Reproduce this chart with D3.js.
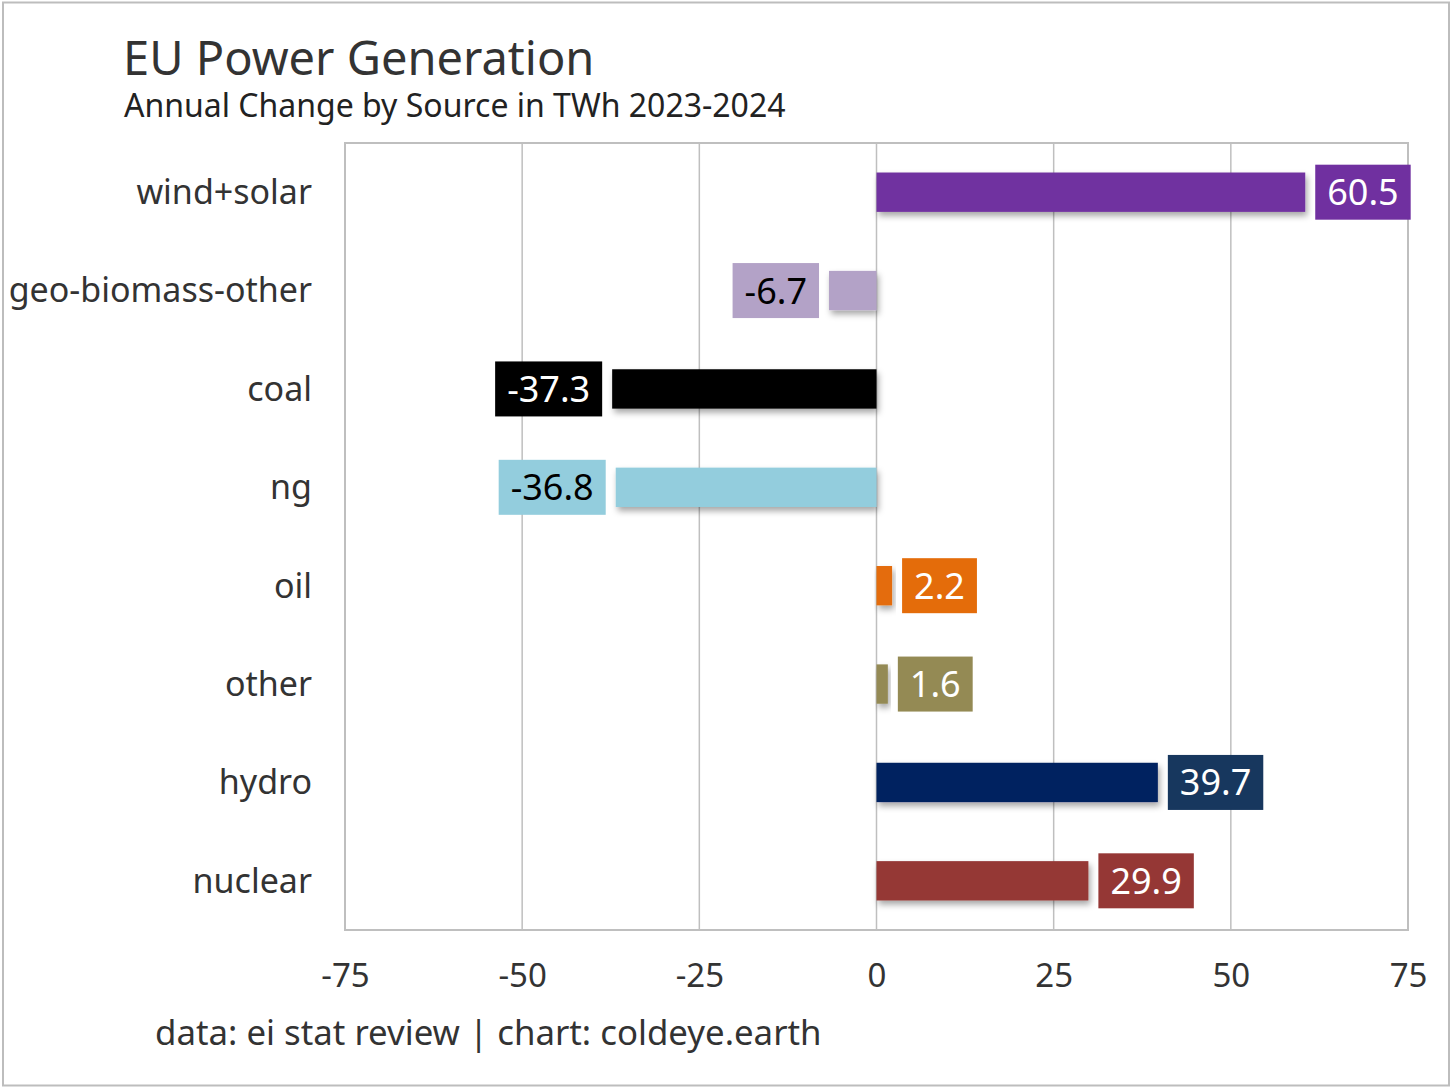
<!DOCTYPE html>
<html><head><meta charset="utf-8">
<script src="https://cdn.jsdelivr.net/npm/d3@7"></script>
<style>html,body{margin:0;padding:0;background:#fff;}svg{display:block;}</style>
</head><body>
<svg id="chart" width="1456" height="1091"></svg>
<script>
const categories = ["wind+solar","geo-biomass-other","coal","ng","oil","other","hydro","nuclear"];
const values = [60.5,-6.7,-37.3,-36.8,2.2,1.6,39.7,29.9];
const barColors = ["#7030A0","#B3A2C7","#000000","#93CDDD","#E46C0A","#948A54","#002060","#953735"];
const boxColors = ["#7030A0","#B3A2C7","#000000","#93CDDD","#E46C0A","#948A54","#17375E","#953735"];
const labelTextColors = ["#fff","#000","#fff","#000","#fff","#fff","#fff","#fff"];
const tickValues = [-75,-50,-25,0,25,50,75];
const title = "EU Power Generation";
const subtitle = "Annual Change by Source in TWh 2023-2024";
const footer = "data: ei stat review | chart: coldeye.earth";

const FONT = "'Noto Sans', 'Open Sans', sans-serif";
const svg = d3.select("#chart");
const m = {left:345, right:1408, top:143, bottom:930};

// outer frame
svg.append("rect").attr("x",3).attr("y",2.5).attr("width",1446).attr("height",1083)
  .attr("fill","#fff").attr("stroke","#bdbdbd").attr("stroke-width",2);

const defs = svg.append("defs");
const f = defs.append("filter").attr("id","sh").attr("x","-10%").attr("y","-30%").attr("width","130%").attr("height","180%");
f.append("feDropShadow").attr("dx",2).attr("dy",4).attr("stdDeviation",3).attr("flood-color","#000").attr("flood-opacity",0.35);

const x = d3.scaleLinear().domain([-75,75]).range([m.left,m.right]);
const y = d3.scaleBand().domain(categories).range([m.top,m.bottom]).paddingInner(0.6).paddingOuter(0.3);

// gridlines
svg.append("g").selectAll("line").data(tickValues.filter(t=>t>-75 && t<75)).join("line")
  .attr("x1",d=>x(d)).attr("x2",d=>x(d)).attr("y1",m.top).attr("y2",m.bottom)
  .attr("stroke","#bfbfbf").attr("stroke-width",1.5);

// plot frame
svg.append("rect").attr("x",m.left).attr("y",m.top).attr("width",m.right-m.left).attr("height",m.bottom-m.top)
  .attr("fill","none").attr("stroke","#bfbfbf").attr("stroke-width",2);

// x axis tick labels
const xAxis = d3.axisBottom(x).tickValues(tickValues).tickSize(0).tickPadding(0).tickFormat(d3.format("d"));
const gx = svg.append("g").attr("transform",`translate(0,${m.bottom})`).call(xAxis);
gx.select(".domain").remove();
gx.selectAll("text").attr("y",57).attr("dy",0).attr("font-family",FONT).attr("font-size",33).attr("fill","#333")
  .text(d=>d<0 ? "-"+Math.abs(d) : d);

// y axis labels
const yAxis = d3.axisLeft(y).tickSize(0).tickPadding(0);
const gy = svg.append("g").attr("transform",`translate(312,0)`).call(yAxis);
gy.select(".domain").remove();
gy.selectAll("text").attr("x",0).attr("dy","0.35em").attr("font-family",FONT).attr("font-size",34).attr("fill","#333");

// bars
const rows = categories.map((c,i)=>({c, v:values[i], i}));
const bh = y.bandwidth();
svg.append("g").selectAll("rect").data(rows).join("rect")
  .attr("x",d=>x(Math.min(0,d.v))).attr("width",d=>Math.abs(x(d.v)-x(0)))
  .attr("y",d=>y(d.c)).attr("height",bh)
  .attr("fill",d=>barColors[d.i]).attr("filter","url(#sh)");

// value label boxes
const boxH = 55, gap = 10, pad = 12;
const lg = svg.append("g");
rows.forEach(d=>{
  const g = lg.append("g");
  const cy = y(d.c)+bh/2;
  const t = g.append("text").attr("font-family",FONT).attr("font-size",36)
    .attr("fill",labelTextColors[d.i]).attr("dy","0.36em")
    .text(d.v<0 ? "-"+Math.abs(d.v).toFixed(1) : d.v.toFixed(1));
  const tw = t.node().getComputedTextLength();
  const bw = tw + 2*pad;
  const bx = d.v>=0 ? x(d.v)+gap : x(d.v)-gap-bw;
  g.insert("rect","text").attr("x",bx).attr("y",cy-boxH/2).attr("width",bw).attr("height",boxH)
    .attr("fill",boxColors[d.i]);
  t.attr("x",bx+pad).attr("y",cy);
});

// titles
svg.append("text").attr("x",123).attr("y",75).attr("font-family",FONT).attr("font-size",47).attr("fill","#333").text(title);
svg.append("text").attr("x",124).attr("y",117).attr("font-family",FONT).attr("font-size",32).attr("fill","#222").text(subtitle);
svg.append("text").attr("x",155).attr("y",1045).attr("font-family",FONT).attr("font-size",34.8).attr("fill","#333").text(footer);
</script>
</body></html>
